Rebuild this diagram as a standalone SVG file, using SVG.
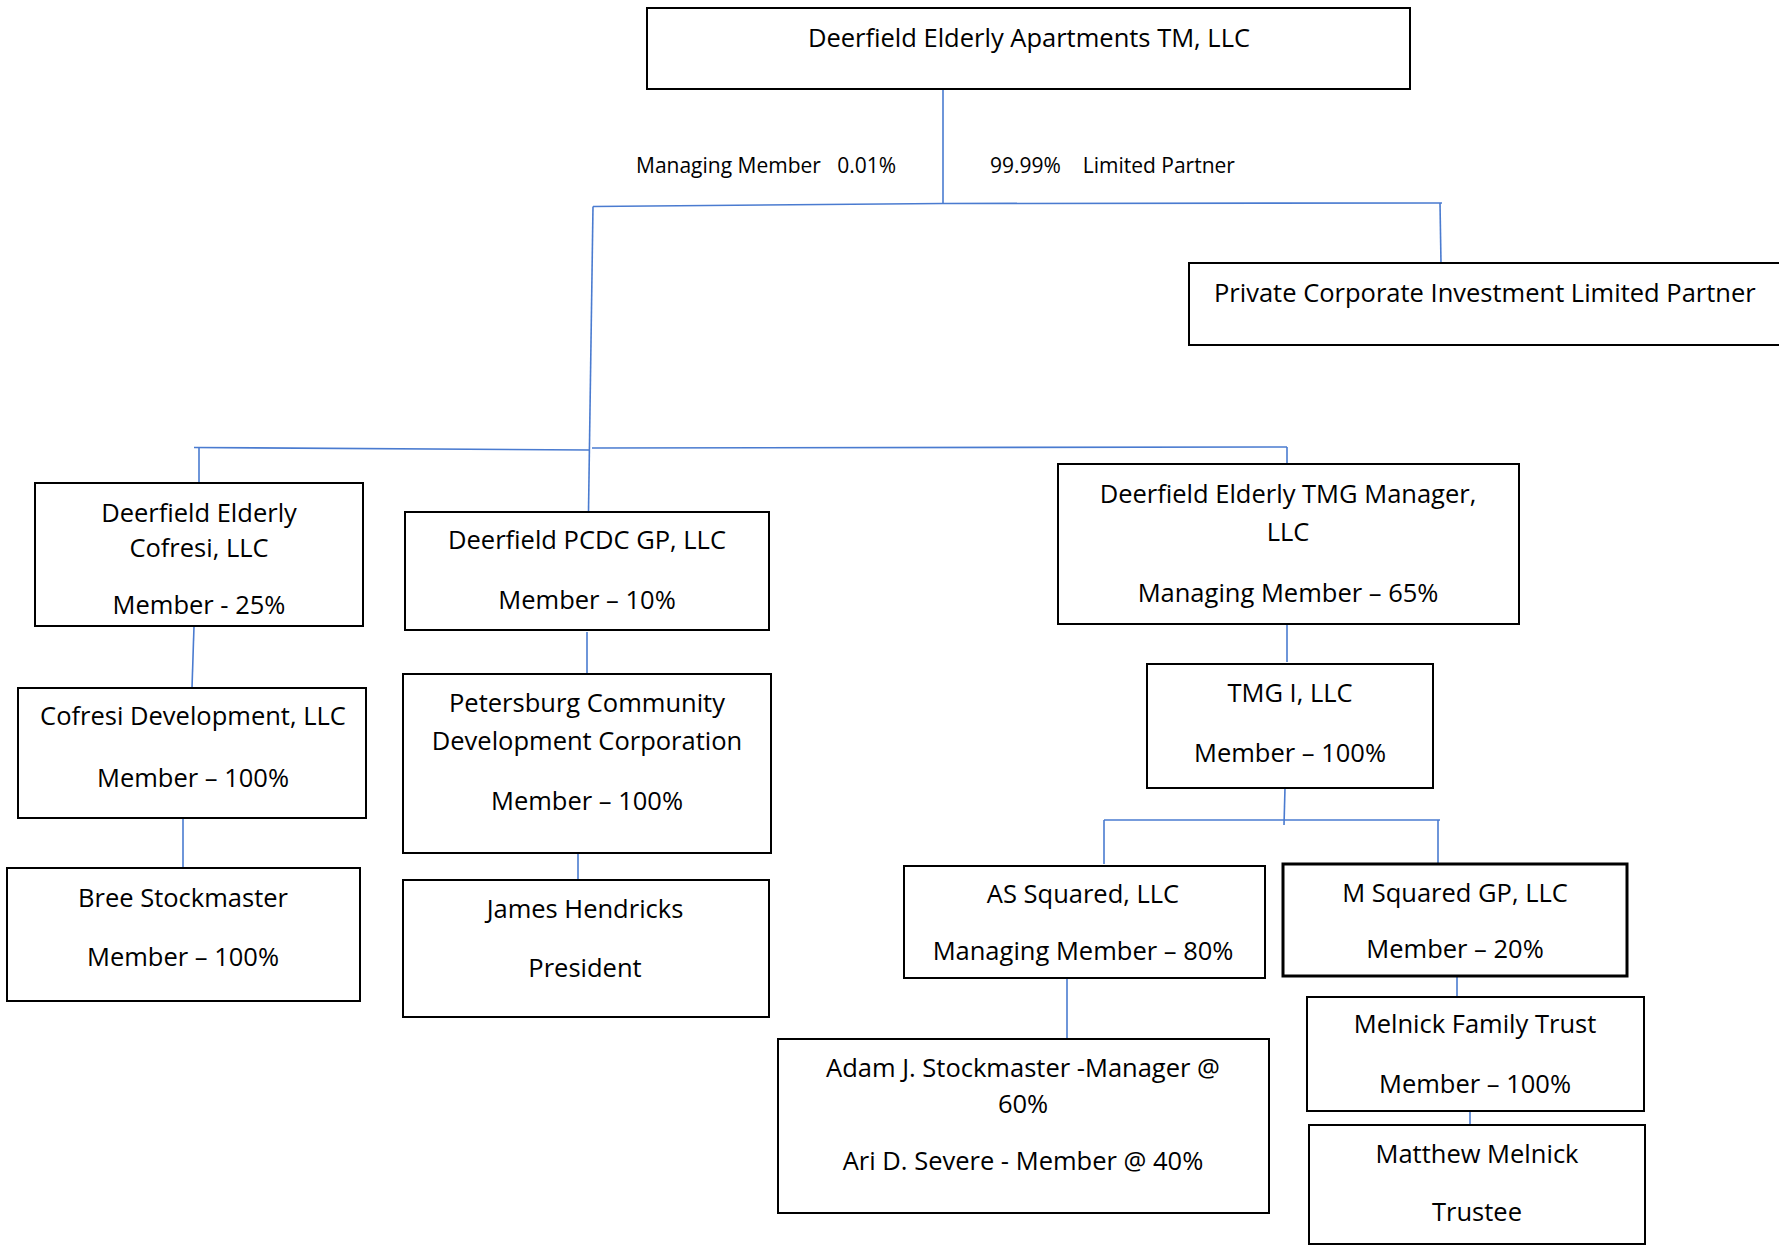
<svg xmlns="http://www.w3.org/2000/svg" width="1779" height="1245" viewBox="0 0 1779 1245">
<style>
.box{fill:#fff;stroke:#000;stroke-width:2}
.thick{stroke-width:3}
.t{font-family:"Open Sans","Liberation Sans",sans-serif;font-size:25.5px;fill:#000;text-anchor:middle}
.lbl{font-family:"Open Sans","Liberation Sans",sans-serif;font-size:21px;fill:#000;white-space:pre}
.c{fill:none;stroke:#4a7bd0;stroke-width:1.6}
</style>
<rect width="1779" height="1245" fill="#fff"/>
<g id="connectors">
<path class="c" d="M943 89V203.5"/>
<path class="c" d="M943 203.5L1442 203"/>
<path class="c" d="M593 206.5L943 203.5"/>
<path class="c" d="M1440 203L1441 263"/>
<path class="c" d="M593 206.5L588.5 512"/>
<path class="c" d="M194 447.5L589 450"/>
<path class="c" d="M592 448L1287 447"/>
<path class="c" d="M199 448V483"/>
<path class="c" d="M1287 447V464"/>
<path class="c" d="M194 626L192 688"/>
<path class="c" d="M587 632V673"/>
<path class="c" d="M183 818V868"/>
<path class="c" d="M578 853V880"/>
<path class="c" d="M1287 624V662"/>
<path class="c" d="M1285 788L1284 825"/>
<path class="c" d="M1104 820H1440"/>
<path class="c" d="M1104 820V864"/>
<path class="c" d="M1438 820V865"/>
<path class="c" d="M1067 973V1038"/>
<path class="c" d="M1457 976V997"/>
<path class="c" d="M1470 1111V1125"/>
</g>
<g id="labels">
<text class="lbl" x="636" y="173" xml:space="preserve">Managing Member   0.01%</text>
<text class="lbl" x="990" y="173" xml:space="preserve">99.99%    Limited Partner</text>
</g>
<g id="n-top">
<rect class="box" x="647" y="8" width="763" height="81"/>
<text class="t" x="1029" y="47">Deerfield Elderly Apartments TM, LLC</text>
</g>
<g id="n-private">
<rect class="box" x="1189" y="263" width="600" height="82"/>
<text class="t" x="1214" y="302" style="text-anchor:start">Private Corporate Investment Limited Partner</text>
</g>
<g id="n-cofresi">
<rect class="box" x="35" y="483" width="328" height="143"/>
<text class="t"><tspan x="199" y="522">Deerfield Elderly</tspan><tspan x="199" y="557">Cofresi, LLC</tspan><tspan x="199" y="614">Member - 25%</tspan></text>
</g>
<g id="n-pcdc">
<rect class="box" x="405" y="512" width="364" height="118"/>
<text class="t"><tspan x="587" y="549">Deerfield PCDC GP, LLC</tspan><tspan x="587" y="609">Member – 10%</tspan></text>
</g>
<g id="n-cofresi-dev">
<rect class="box" x="18" y="688" width="348" height="130"/>
<text class="t"><tspan x="193" y="725">Cofresi Development, LLC</tspan><tspan x="193" y="787">Member – 100%</tspan></text>
</g>
<g id="n-petersburg">
<rect class="box" x="403" y="674" width="368" height="179"/>
<text class="t"><tspan x="587" y="712">Petersburg Community</tspan><tspan x="587" y="750">Development Corporation</tspan><tspan x="587" y="810">Member – 100%</tspan></text>
</g>
<g id="n-bree">
<rect class="box" x="7" y="868" width="353" height="133"/>
<text class="t"><tspan x="183" y="907">Bree Stockmaster</tspan><tspan x="183" y="966">Member – 100%</tspan></text>
</g>
<g id="n-james">
<rect class="box" x="403" y="880" width="366" height="137"/>
<text class="t"><tspan x="585" y="918">James Hendricks</tspan><tspan x="585" y="977">President</tspan></text>
</g>
<g id="n-tmg-manager">
<rect class="box" x="1058" y="464" width="461" height="160"/>
<text class="t"><tspan x="1288" y="503">Deerfield Elderly TMG Manager,</tspan><tspan x="1288" y="541">LLC</tspan><tspan x="1288" y="602">Managing Member – 65%</tspan></text>
</g>
<g id="n-tmg1">
<rect class="box" x="1147" y="664" width="286" height="124"/>
<text class="t"><tspan x="1290" y="702">TMG I, LLC</tspan><tspan x="1290" y="762">Member – 100%</tspan></text>
</g>
<g id="n-as-squared">
<rect class="box" x="904" y="866" width="361" height="112"/>
<text class="t"><tspan x="1083" y="903">AS Squared, LLC</tspan><tspan x="1083" y="960">Managing Member – 80%</tspan></text>
</g>
<g id="n-m-squared">
<rect class="box thick" x="1283" y="864" width="344" height="112"/>
<text class="t"><tspan x="1455" y="902">M Squared GP, LLC</tspan><tspan x="1455" y="958">Member – 20%</tspan></text>
</g>
<g id="n-adam">
<rect class="box" x="778" y="1039" width="491" height="174"/>
<text class="t"><tspan x="1023" y="1077">Adam J. Stockmaster -Manager @</tspan><tspan x="1023" y="1113">60%</tspan><tspan x="1023" y="1170">Ari D. Severe - Member @ 40%</tspan></text>
</g>
<g id="n-melnick-trust">
<rect class="box" x="1307" y="997" width="337" height="114"/>
<text class="t"><tspan x="1475" y="1033">Melnick Family Trust</tspan><tspan x="1475" y="1093">Member – 100%</tspan></text>
</g>
<g id="n-matthew">
<rect class="box" x="1309" y="1125" width="336" height="119"/>
<text class="t"><tspan x="1477" y="1163">Matthew Melnick</tspan><tspan x="1477" y="1221">Trustee</tspan></text>
</g>
</svg>
